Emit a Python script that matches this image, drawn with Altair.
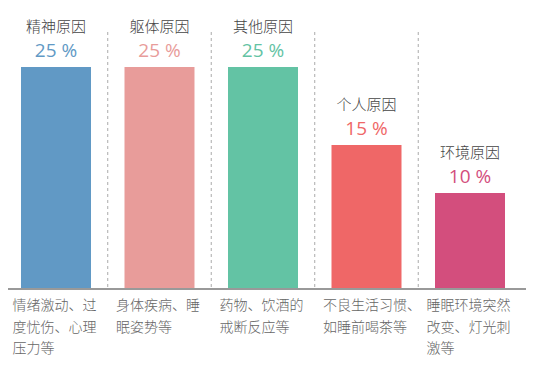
import altair as alt
import pandas as pd

categories = ["精神原因", "躯体原因", "其他原因", "个人原因", "环境原因"]
values = [25, 25, 25, 15, 10]
pct_labels = ["25 %", "25 %", "25 %", "15 %", "10 %"]
descriptions = [
    "情绪激动、过\n度忧伤、心理\n压力等",
    "身体疾病、睡\n眠姿势等",
    "药物、饮酒的\n戒断反应等",
    "不良生活习惯、\n如睡前喝茶等",
    "睡眠环境突然\n改变、灯光刺\n激等",
]
colors = ["#6199C5", "#E89C9A", "#63C3A4", "#EF6767", "#D34E7D"]

df = pd.DataFrame({"cat": categories, "val": values, "pct": pct_labels, "desc": descriptions})
div_df = df.iloc[:4]

FONT = "Noto Sans CJK SC"

xscale = alt.Scale(domain=categories, range=[0, 510], paddingInner=0.3237, paddingOuter=0.1256)
yscale = alt.Scale(domain=[0, 10, 15, 25], range=[281, 185, 137, 59])
cscale = alt.Scale(domain=categories, range=colors)

x = alt.X("cat:N", scale=xscale, axis=None, sort=categories)
y = alt.Y("val:Q", scale=yscale, axis=None)

bars = alt.Chart(df).mark_bar().encode(
    x=x, y=y, color=alt.Color("cat:N", scale=cscale, legend=None)
)

pct = alt.Chart(df).mark_text(dy=-16, fontSize=19, font="Open Sans", baseline="middle").encode(
    x=x, y=y, text="pct:N", color=alt.Color("cat:N", scale=cscale, legend=None)
)

titles = alt.Chart(df).mark_text(dy=-40, fontSize=15, font=FONT, fontWeight=300,
                                 baseline="middle", color="#444444").encode(
    x=x, y=y, text="cat:N"
)

desc = alt.Chart(df).mark_text(
    align="left", baseline="top", dx=-8.5, fontSize=14, font=FONT, fontWeight=300,
    color="#666666", lineBreak="\n", lineHeight=21.5
).encode(
    x=alt.X("cat:N", scale=xscale, axis=None, sort=categories, bandPosition=0),
    y=alt.value(291), text="desc:N"
)

dividers = alt.Chart(div_df).mark_rule(
    color="#AAAAAA", strokeDash=[3, 3], strokeWidth=1, xOffset=16.75
).encode(
    x=alt.X("cat:N", scale=xscale, axis=None, sort=categories, bandPosition=1),
    y=alt.value(24), y2=alt.value(281)
)

axis_line = alt.Chart(df).mark_rule(color="#999999", strokeWidth=2).encode(
    x=alt.value(0), x2=alt.value(518), y=alt.value(281)
)

chart = alt.layer(dividers, bars, axis_line, pct, titles, desc).properties(
    width=525, height=373, autosize=alt.AutoSizeParams(type="none"), padding=0
).configure_view(stroke=None)

chart.save("out.html", embed_options={"renderer": "svg", "actions": False})
